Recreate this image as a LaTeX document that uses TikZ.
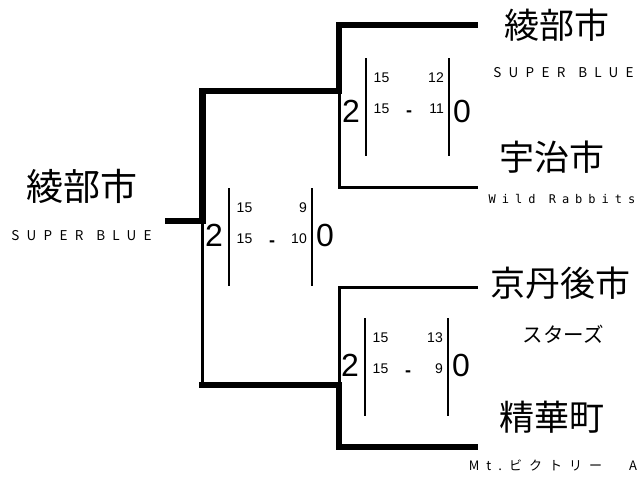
\documentclass[tikz,border=0pt]{standalone}
\usepackage{fontspec}
\setmainfont{Liberation Sans}
\newfontfamily\jp{Noto Sans CJK JP}
\newfontfamily\jpsp[LetterSpace=54]{Noto Sans CJK JP}
\newfontfamily\monosp[LetterSpace=50]{DejaVu Sans Mono}
\tikzset{
  thickline/.style={line width=6.5pt, line join=miter},
  thinline/.style={line width=3pt, line join=miter},
  bar/.style={line width=2.6pt},
  bignum/.style={inner sep=0pt, anchor=base, font=\fontsize{32}{36}\selectfont},
  smallnum/.style={inner sep=0pt, anchor=base, font=\fontsize{14}{16}\selectfont},
  dashnum/.style={inner sep=0pt, anchor=base, font=\bfseries\fontsize{18}{20}\selectfont},
  bigname/.style={inner sep=0pt, font=\jp\fontsize{35}{40}\selectfont},
  subname/.style={inner sep=0pt, font=\jpsp\fontsize{13.5}{15}\selectfont},
}
\newcommand\scoreblk[6]{%
  \begin{scope}[shift={(#2,#3)}]
    \coordinate (#1a) at (0,0); \coordinate (#1b) at (0,98);
    \coordinate (#1c) at (83,0); \coordinate (#1d) at (83,98);
    \draw[bar] (#1a) -- (#1b);
    \draw[bar] (#1c) -- (#1d);
    \node[bignum] (#1w) at (-15,#6) {2};
    \node[bignum] (#1l) at (96,#6) {0};
    \node[smallnum] (#1p) at (15.5,24) {15};
    \node[smallnum] (#1q) at (15.5,55) {15};
    \node[dashnum] (#1m) at (43,58) {-};
    \node[smallnum, anchor=base east] (#1r) at (78,24) {#4};
    \node[smallnum, anchor=base east] (#1s) at (78,55) {#5};
  \end{scope}}
\begin{document}
\begin{tikzpicture}[x=1pt,y=-1pt]
\useasboundingbox (0,0) rectangle (640,480);
% bracket coordinates
\coordinate (L0) at (165,221);
\coordinate (F) at (202.5,221);
\coordinate (FT) at (202.5,91);
\coordinate (FB) at (202.5,385);
\coordinate (FBx) at (199.25,385);
\coordinate (ST) at (339,91);
\coordinate (STt) at (339,25);
\coordinate (STb) at (339,187.5);
\coordinate (R1) at (478,25);
\coordinate (R2) at (478,187.5);
\coordinate (SB) at (339,385);
\coordinate (SBt) at (339,287);
\coordinate (SBb) at (339,447);
\coordinate (R3) at (478,287);
\coordinate (R4) at (478,447);
% thick (winner) paths
\draw[thickline] (L0) -- (F) -- (FT) -- (ST) -- (STt) -- (R1);
\draw[thickline] (FBx) -- (SB) -- (SBb) -- (R4);
% thin paths
\draw[thinline] (F) -- (FB);
\draw[thinline] (ST) -- (STb) -- (R2);
\draw[thinline] (SB) -- (SBt) -- (R3);
% scores
\scoreblk{f}{229}{188}{9}{10}{58}
\scoreblk{t}{366}{58}{12}{11}{64}
\scoreblk{u}{365}{318}{13}{9}{58}
% names
\node[bigname, font=\jp\fontsize{37}{42}\selectfont] (n0) at (82,186) {綾部市};
\node[subname] (s0) at (81.5,236) {SUPER\hspace{13pt}BLUE};
\node[bigname] (n1) at (557,25) {綾部市};
\node[subname] (s1) at (563.5,72.5) {SUPER\hspace{13pt}BLUE};
\node[bigname] (n2) at (552,157) {宇治市};
\node[inner sep=0pt, font=\monosp\fontsize{12}{14}\selectfont] (s2) at (562,199) {Wild Rabbits};
\node[bigname] (n3) at (560,283) {京丹後市};
\node[inner sep=0pt, font=\jp\fontsize{20.5}{24}\selectfont] (s3) at (563,334) {スターズ};
\node[bigname] (n4) at (552,417) {精華町};
\node[subname, font=\jpsp\fontsize{13}{15}\selectfont] (s4) at (553,465) {Mt.ビクトリー　A};
\end{tikzpicture}
\end{document}
